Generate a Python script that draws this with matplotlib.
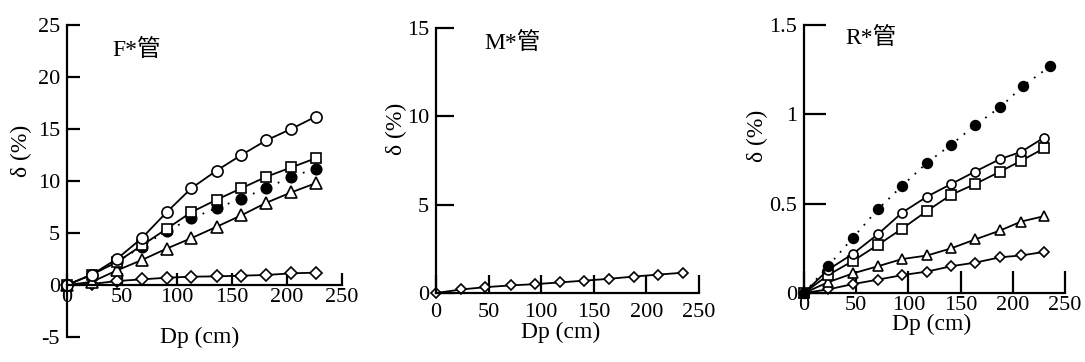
import matplotlib
matplotlib.use('Agg')
import matplotlib.pyplot as plt

plt.rcParams['font.family'] = ['Liberation Serif', 'Noto Sans CJK SC']

# F* tube
f_dp = [0, 22.6, 45.3, 68, 90.6, 113, 136, 158.5, 181, 203.7, 226.4]
f_circle = [0, 1.0, 2.5, 4.5, 7.0, 9.3, 11.0, 12.5, 13.9, 15.0, 16.2]
f_square = [0, 1.0, 2.2, 3.8, 5.4, 7.0, 8.2, 9.3, 10.4, 11.3, 12.2]
f_dot = [0, 1.0, 2.2, 3.7, 5.2, 6.4, 7.4, 8.3, 9.3, 10.4, 11.2]
f_triangle = [0, 0.3, 1.4, 2.4, 3.5, 4.5, 5.6, 6.7, 7.9, 8.9, 9.8]
f_diamond = [0, 0.1, 0.38, 0.54, 0.7, 0.8, 0.83, 0.9, 0.96, 1.12, 1.19]

# M* tube
m_dp = [0, 24, 47, 71, 94, 118, 141, 164, 188, 211, 235]
m_diamond = [0, 0.2, 0.33, 0.43, 0.5, 0.6, 0.7, 0.8, 0.93, 1.04, 1.15]

# R* tube
r_dp = [0, 23, 47, 71, 94, 118, 141, 164, 188, 208, 230]
r_dot_dp = [0, 23, 47, 71, 94, 118, 141, 164, 188, 210, 236]
r_dot = [0, 0.15, 0.31, 0.47, 0.6, 0.73, 0.83, 0.94, 1.04, 1.16, 1.27]
r_circle = [0, 0.13, 0.22, 0.33, 0.45, 0.54, 0.61, 0.68, 0.75, 0.79, 0.87]
r_square = [0, 0.10, 0.18, 0.27, 0.36, 0.46, 0.55, 0.61, 0.68, 0.74, 0.81]
r_triangle = [0, 0.06, 0.11, 0.15, 0.19, 0.21, 0.25, 0.30, 0.35, 0.40, 0.43]
r_diamond = [0, 0.02, 0.05, 0.075, 0.10, 0.12, 0.15, 0.17, 0.20, 0.21, 0.23]

dp_ticks = [0, 50, 100, 150, 200, 250]

W, H = 1085, 362
FS = 16
fig = plt.figure(figsize=(W / 100, H / 100), dpi=100)


def make_axes(l, t, r, b):
    # pixel box -> figure fraction
    return fig.add_axes([l / W, 1 - b / H, (r - l) / W, (b - t) / H])


def style(ax, ylim, yticks, ylabels, tlen, xpad):
    ax.set_xlim(0, 250)
    ax.set_ylim(*ylim)
    ax.spines['top'].set_visible(False)
    ax.spines['right'].set_visible(False)
    ax.spines['bottom'].set_position(('data', 0))
    for s in ('left', 'bottom'):
        ax.spines[s].set_linewidth(1.6)
    ax.set_xticks(dp_ticks)
    ax.set_xticklabels([str(t) for t in dp_ticks])
    ax.set_yticks(yticks)
    ax.set_yticklabels(ylabels)
    ax.tick_params(direction='in', length=tlen, width=1.6, labelsize=FS)
    ax.tick_params(axis='x', pad=xpad)
    ax.tick_params(axis='y', pad=5)
    ax.patch.set_visible(False)


def series(ax, x, y, marker, ms, filled=False, dotted=False):
    ax.plot(x, y, color='black',
            linestyle=(0, (1, 4)) if dotted else '-',
            linewidth=1.3, marker=marker, markersize=ms,
            markerfacecolor='black' if filled else 'white',
            markeredgecolor='black', markeredgewidth=1.2, clip_on=False)


def labels(ax, title, tpos, xpos, ypos):
    ax.text(*tpos, title, transform=ax.transAxes, fontsize=FS + 1,
            ha='center', va='center')
    ax.set_xlabel('Dp (cm)', fontsize=FS + 1, va='center')
    ax.xaxis.set_label_coords(*xpos)
    ax.set_ylabel('δ (%)', fontsize=FS + 1, va='center')
    ax.yaxis.set_label_coords(*ypos)


# ---- F* ----
ax1 = make_axes(67, 25, 342, 337)
style(ax1, (-5, 25), [-5, 0, 5, 10, 15, 20, 25],
      ['-5', '0', '5', '10', '15', '20', '25'], 9, 2)
series(ax1, f_dp, f_diamond, 'D', 6)
series(ax1, f_dp, f_triangle, '^', 8)
series(ax1, f_dp, f_dot, 'o', 7.5, filled=True, dotted=True)
series(ax1, f_dp, f_square, 's', 7.5)
series(ax1, f_dp, f_circle, 'o', 8)
labels(ax1, 'F*管', (0.255, 0.92), (0.484, 0.0), (-0.167, 0.596))

# ---- M* ----
ax2 = make_axes(436, 28, 699, 293)
style(ax2, (0, 15), [0, 5, 10, 15], ['0', '5', '10', '15'], 13, 7)
series(ax2, m_dp, m_diamond, 'D', 5.5)
labels(ax2, 'M*管', (0.29, 0.943), (0.475, -0.147), (-0.15, 0.619))

# ---- R* ----
ax3 = make_axes(804, 25, 1065, 293)
style(ax3, (0, 1.5), [0, 0.5, 1, 1.5], ['0', '0.5', '1', '1.5'], 16, 2)
series(ax3, r_dp, r_diamond, 'D', 5)
series(ax3, r_dp, r_triangle, '^', 6.5)
series(ax3, r_dp, r_square, 's', 6.5)
series(ax3, r_dp, r_circle, 'o', 6.5)
series(ax3, r_dot_dp, r_dot, 'o', 7, filled=True, dotted=True)
labels(ax3, 'R*管', (0.257, 0.951), (0.49, -0.116), (-0.18, 0.586))

fig.savefig('out.png', dpi=100)
